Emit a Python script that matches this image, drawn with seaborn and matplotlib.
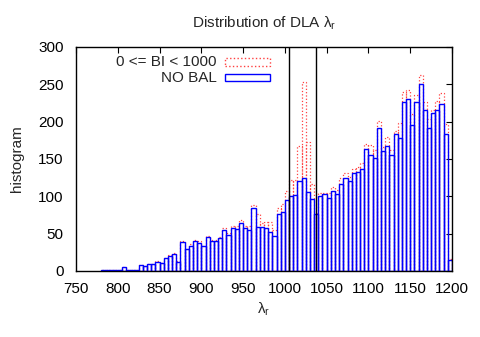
import matplotlib
matplotlib.use("Agg")
import matplotlib.pyplot as plt
from matplotlib.patches import Rectangle
import numpy as np
import pandas as pd
import seaborn as sns

# bin left edges (width 5) and counts
bin_left = list(range(780, 1200, 5))
no_bal = [1, 1, 2, 2, 2, 5, 1, 2, 1, 8, 7, 9, 9, 12, 11, 17, 20, 23, 12, 39,
          29, 34, 40, 38, 33, 45, 40, 40, 44, 55, 48, 57, 56, 64, 57, 55, 84, 59, 59, 57,
          52, 47, 77, 79, 95, 100, 102, 120, 125, 106, 96, 77, 100, 103, 98, 107, 103, 117, 125, 121,
          131, 132, 137, 164, 155, 152, 192, 161, 168, 155, 183, 178, 226, 230, 196, 226, 251, 216, 192, 211,
          216, 224, 184, 15]
bi_0_1000 = [1, 1, 2, 2, 2, 5, 1, 2, 1, 8, 7, 10, 10, 13, 11, 18, 21, 24, 13, 40,
             30, 36, 41, 40, 34, 47, 41, 42, 45, 57, 51, 60, 60, 68, 60, 60, 89, 77, 64, 65,
             65, 55, 84, 90, 107, 122, 122, 167, 253, 173, 116, 78, 104, 105, 104, 113, 109, 125, 131, 126,
             137, 139, 144, 170, 169, 162, 201, 166, 180, 162, 188, 198, 240, 242, 210, 236, 263, 227, 204, 216,
             228, 239, 197, 16]
marker_lines = [1005, 1037]

sns.set_style("white")
plt.rcParams["font.family"] = ["Liberation Sans", "DejaVu Sans"]
plt.rcParams["mathtext.fontset"] = "custom"
plt.rcParams["mathtext.rm"] = "Liberation Sans"
plt.rcParams["mathtext.it"] = "Liberation Sans"

df = pd.DataFrame({"center": np.array(bin_left, dtype=float) + 2.5,
                   "no_bal": no_bal, "bi": bi_0_1000})

fig = plt.figure(figsize=(4.8, 3.37), dpi=100)
ax = fig.add_axes([76 / 480, 1 - 271 / 337, 376 / 480, 224 / 337])

sns.histplot(data=df, x="center", weights="bi", binwidth=5, binrange=(780, 1200),
             fill=False, color="#ff4040", linestyle=":", linewidth=0.9, ax=ax)
sns.histplot(data=df, x="center", weights="no_bal", binwidth=5, binrange=(780, 1200),
             fill=False, color="#0000ff", linewidth=1.0, ax=ax)
for xv in marker_lines:
    ax.axvline(xv, color="black", linewidth=1.0)

ax.set_xlim(750, 1200)
ax.set_ylim(0, 300)
ax.set_xticks(range(750, 1201, 50))
ax.set_yticks(range(0, 301, 50))
ax.tick_params(direction="in", top=True, right=True, length=4, width=0.8,
               labelsize=11, colors="black")
ax.tick_params(axis="y", pad=9)
ax.tick_params(axis="x", pad=8)
for s in ax.spines.values():
    s.set_color("black")
    s.set_linewidth(1.0)

ax.set_xlabel(r"$\lambda_\mathrm{r}$", fontsize=11, labelpad=3)
ax.set_ylabel("histogram", fontsize=11, labelpad=10)
ax.set_title(r"Distribution of DLA $\lambda_\mathrm{r}$", fontsize=11, pad=14)

# gnuplot-style key: right-aligned text followed by a sample box
key = [("0 <= BI < 1000", "#ff4040", ":", 0.933), ("NO BAL", "#0000ff", "-", 0.863)]
for label, col, ls, yk in key:
    ax.text(0.375, yk, label, transform=ax.transAxes, ha="right", va="center", fontsize=11)
    ax.add_patch(Rectangle((0.396, yk - 0.017), 0.12, 0.034, transform=ax.transAxes,
                           fill=False, edgecolor=col, linestyle=ls, linewidth=1.0))

fig.savefig("out.png", dpi=100)
